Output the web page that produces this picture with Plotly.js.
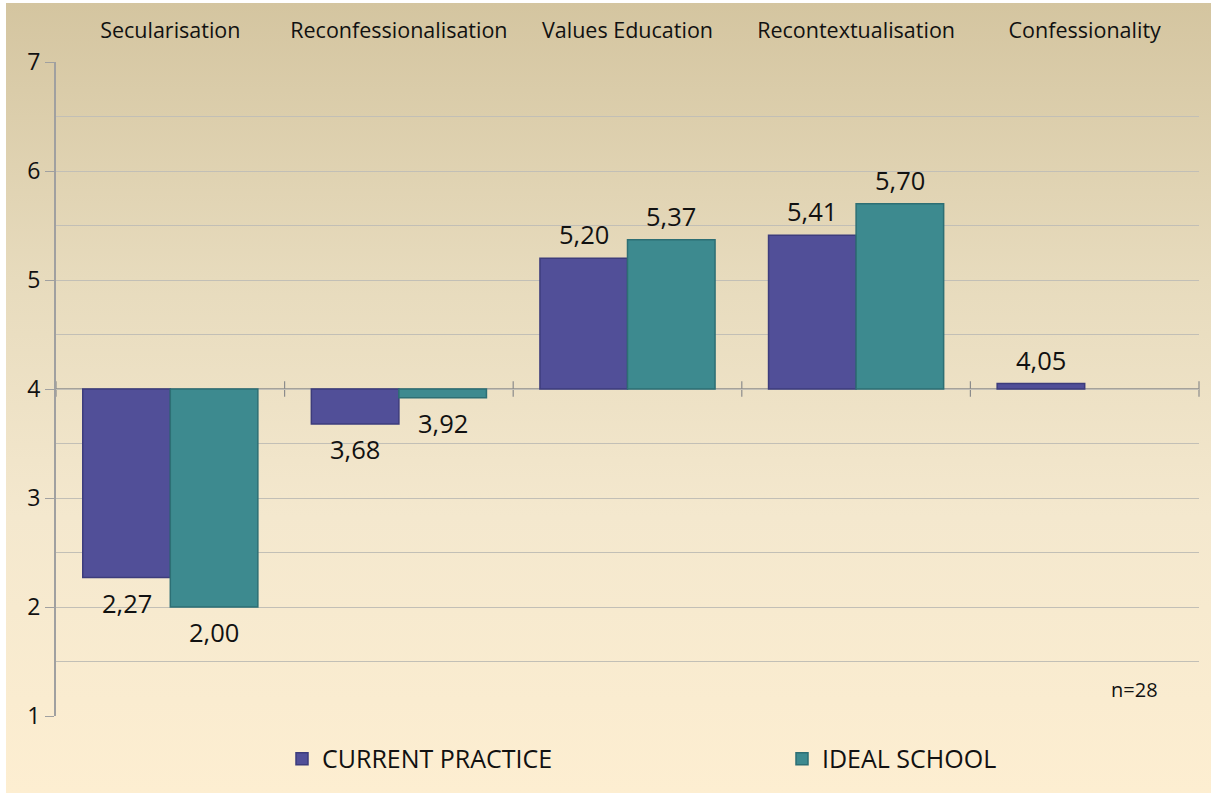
<!DOCTYPE html>
<html>
<head>
<meta charset="utf-8">
<script src="https://cdn.plot.ly/plotly-3.0.1.min.js"></script>
<style>
  html, body { margin:0; padding:0; background:#ffffff; }
  #wrap { position:absolute; left:6px; top:3px; width:1205px; height:790px;
          background: linear-gradient(to bottom, #d4c5a0 0%, #e7dbbd 35%, #f4e8ce 65%, #fdeed1 100%); }
  #chart { position:absolute; left:-6px; top:-3px; width:1211px; height:793px; }
</style>
</head>
<body>
<div id="wrap"><div id="chart"></div></div>
<script>
const categories = ["Secularisation", "Reconfessionalisation", "Values Education", "Recontextualisation", "Confessionality"];
const currentPractice = [2.27, 3.68, 5.20, 5.41, 4.05];
const idealSchool = [2.00, 3.92, 5.37, 5.70, null];
const baseline = 4;
const seriesNames = ["CURRENT PRACTICE", "IDEAL SCHOOL"];
const yTicks = [1, 2, 3, 4, 5, 6, 7];

const FONT = "'Open Sans', sans-serif";
const fmt = v => v.toFixed(2).replace(".", ",");

const W = 1211, H = 793;
const M = { l: 56, r: 12, t: 62, b: 77 };
const BARGAP = 0.234;
const plotW = W - M.l - M.r;
const barPx = plotW / categories.length * (1 - BARGAP) / 2;

function barTrace(vals, name, color, lineColor, legendId) {
  return {
    type: "bar",
    x: categories,
    y: vals.map(v => v === null ? null : v - baseline),
    base: vals.map(v => v === null ? null : baseline),
    name: name,
    legend: legendId,
    marker: { color: color, line: { color: lineColor, width: 1.5 } },
    hoverinfo: "skip"
  };
}

const traces = [
  barTrace(currentPractice, seriesNames[0], "#514f98", "#3d3c7c", "legend"),
  barTrace(idealSchool, seriesNames[1], "#3d8a8f", "#2d6f74", "legend2")
];

// value labels above / below each bar end
const annotations = [];
[currentPractice, idealSchool].forEach((vals, s) => {
  vals.forEach((v, i) => {
    if (v === null) return;
    const up = v >= baseline;
    annotations.push({
      x: categories[i], y: v, xref: "x", yref: "y",
      text: fmt(v), showarrow: false,
      xshift: (s === 0 ? -1 : 1) * barPx / 2,
      yanchor: up ? "bottom" : "top",
      yshift: up ? 5 : -6,
      font: { family: FONT, size: 25.5, color: "#111" }
    });
  });
});
annotations.push({
  text: "n=28", xref: "paper", yref: "y", x: 0.966, y: 1.24,
  xanchor: "right", yanchor: "middle", showarrow: false,
  font: { family: FONT, size: 20, color: "#111" }
});

// horizontal axis line at the baseline with category-boundary ticks
const shapes = [{
  type: "line", xref: "paper", yref: "y", x0: 0, x1: 1, y0: baseline, y1: baseline,
  line: { color: "#8c8c8c", width: 1.5 }, layer: "below"
}];
for (let i = 0; i <= categories.length; i++) {
  shapes.push({
    type: "line", xref: "paper", yref: "y",
    x0: i / categories.length, x1: i / categories.length,
    y0: baseline - 0.07, y1: baseline + 0.07,
    line: { color: "#8c8c8c", width: 1.2 }, layer: "below"
  });
}

const legendCommon = {
  orientation: "h",
  xref: "container", yref: "container",
  xanchor: "left", yanchor: "middle",
  y: 0.043,
  font: { family: FONT, size: 25, color: "#111" },
  itemwidth: 30,
  bgcolor: "rgba(0,0,0,0)"
};

const layout = {
  width: W, height: H,
  paper_bgcolor: "rgba(0,0,0,0)",
  plot_bgcolor: "rgba(0,0,0,0)",
  margin: M,
  barmode: "group",
  bargap: BARGAP,
  bargroupgap: 0,
  font: { family: FONT, color: "#111" },
  xaxis: {
    type: "category",
    side: "top",
    showgrid: false,
    showline: false,
    ticks: "",
    tickfont: { family: FONT, size: 21.5, color: "#111" },
    ticklabelstandoff: 19
  },
  yaxis: {
    range: [1, 7],
    tickvals: yTicks,
    showgrid: true,
    gridcolor: "#c2bfb6",
    gridwidth: 1,
    minor: { dtick: 0.5, showgrid: true, gridcolor: "#c2bfb6", gridwidth: 1 },
    showline: true,
    linecolor: "#a0a0a0",
    linewidth: 2,
    ticks: "outside",
    ticklen: 9,
    tickcolor: "#a0a0a0",
    tickfont: { family: FONT, size: 23, color: "#111" },
    zeroline: false
  },
  showlegend: true,
  legend: Object.assign({}, legendCommon, { x: 282 / W }),
  legend2: Object.assign({}, legendCommon, { x: 782 / W }),
  shapes: shapes,
  annotations: annotations
};

Plotly.newPlot("chart", traces, layout, { displayModeBar: false, staticPlot: true });
</script>
</body>
</html>
